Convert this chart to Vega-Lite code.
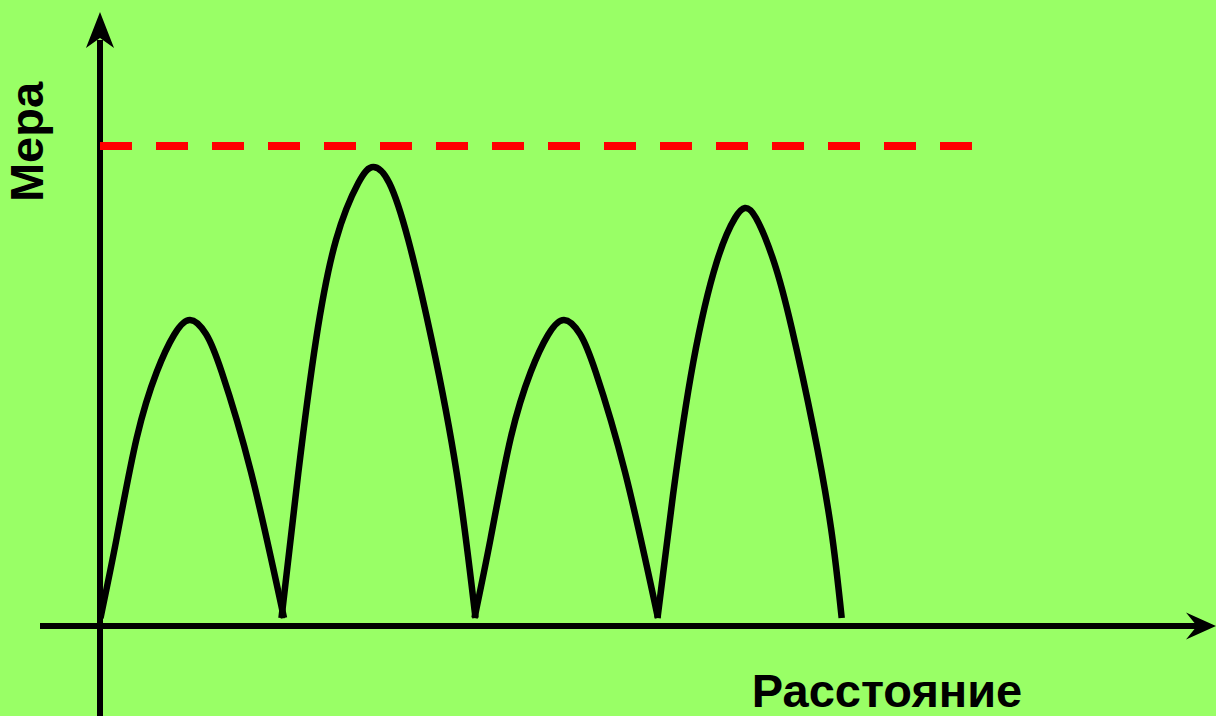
{
  "$schema": "https://vega.github.io/schema/vega-lite/v6.json",
  "width": 1216,
  "height": 716,
  "autosize": "none",
  "padding": 0,
  "background": "#99FF66",
  "config": {"view": {"stroke": null}},
  "datasets": {
    "curve": [
      {"arch": 1, "d": 0.5, "m": 8}, {"arch": 1, "d": 16.7, "m": 88}, {"arch": 1, "d": 36.7, "m": 188}, {"arch": 1, "d": 56.7, "m": 254}, {"arch": 1, "d": 74, "m": 291}, {"arch": 1, "d": 90, "m": 306}, {"arch": 1, "d": 106, "m": 292}, {"arch": 1, "d": 121.7, "m": 254}, {"arch": 1, "d": 151, "m": 154}, {"arch": 1, "d": 184, "m": 8},
      {"arch": 2, "d": 181.5, "m": 8}, {"arch": 2, "d": 198.3, "m": 153}, {"arch": 2, "d": 216, "m": 286}, {"arch": 2, "d": 236, "m": 386}, {"arch": 2, "d": 258.3, "m": 443}, {"arch": 2, "d": 273.3, "m": 459}, {"arch": 2, "d": 289.3, "m": 443}, {"arch": 2, "d": 308.3, "m": 386}, {"arch": 2, "d": 331.7, "m": 286}, {"arch": 2, "d": 356.7, "m": 153}, {"arch": 2, "d": 375.5, "m": 8},
      {"arch": 3, "d": 374.5, "m": 8}, {"arch": 3, "d": 390.7, "m": 88}, {"arch": 3, "d": 410.7, "m": 188}, {"arch": 3, "d": 430.7, "m": 254}, {"arch": 3, "d": 448, "m": 291}, {"arch": 3, "d": 464, "m": 306}, {"arch": 3, "d": 480, "m": 292}, {"arch": 3, "d": 495.7, "m": 254}, {"arch": 3, "d": 525, "m": 154}, {"arch": 3, "d": 558, "m": 8},
      {"arch": 4, "d": 557.5, "m": 8}, {"arch": 4, "d": 573, "m": 131}, {"arch": 4, "d": 593.3, "m": 264}, {"arch": 4, "d": 616.7, "m": 364}, {"arch": 4, "d": 635, "m": 408}, {"arch": 4, "d": 645, "m": 418}, {"arch": 4, "d": 656, "m": 408}, {"arch": 4, "d": 674, "m": 364}, {"arch": 4, "d": 691.7, "m": 298}, {"arch": 4, "d": 713.3, "m": 198}, {"arch": 4, "d": 731, "m": 98}, {"arch": 4, "d": 741.7, "m": 8}
    ]
  },
  "layer": [
    {
      "data": {"name": "curve"},
      "mark": {"type": "line", "color": "black", "strokeWidth": 6.5, "strokeCap": "butt", "strokeJoin": "round", "interpolate": "natural", "clip": false},
      "encoding": {
        "x": {"field": "d", "type": "quantitative", "scale": {"domain": [-100, 1116], "nice": false, "zero": false}, "axis": null},
        "y": {"field": "m", "type": "quantitative", "scale": {"domain": [-90, 626], "nice": false, "zero": false}, "axis": null},
        "detail": {"field": "arch", "type": "nominal"}
      }
    },
    {
      "data": {"values": [{}]},
      "mark": {"type": "rule", "color": "black", "strokeWidth": 6, "strokeCap": "butt"},
      "encoding": {
        "x": {"datum": 0, "type": "quantitative"},
        "y": {"datum": -90, "type": "quantitative"},
        "y2": {"datum": 586}
      }
    },
    {
      "data": {"values": [{}]},
      "mark": {"type": "rule", "color": "black", "strokeWidth": 6, "strokeCap": "butt"},
      "encoding": {
        "y": {"datum": 0, "type": "quantitative"},
        "x": {"datum": -60, "type": "quantitative"},
        "x2": {"datum": 1097}
      }
    },
    {
      "data": {"values": [{}]},
      "mark": {"type": "rule", "color": "#FF0000", "strokeWidth": 8, "strokeCap": "butt", "strokeDash": [32, 24]},
      "encoding": {
        "y": {"datum": 480, "type": "quantitative"},
        "x": {"datum": 0, "type": "quantitative"},
        "x2": {"datum": 872}
      }
    },
    {
      "data": {"values": [{}]},
      "mark": {"type": "point", "filled": true, "color": "black", "opacity": 1, "strokeWidth": 0, "size": 1296, "shape": "M0,-1L0.78,1L0,0.44L-0.78,1Z"},
      "encoding": {
        "x": {"datum": 0, "type": "quantitative"},
        "y": {"datum": 596, "type": "quantitative"}
      }
    },
    {
      "data": {"values": [{}]},
      "mark": {"type": "point", "filled": true, "color": "black", "opacity": 1, "strokeWidth": 0, "size": 900, "shape": "M1,0L-1,-0.9L-0.27,0L-1,0.9Z"},
      "encoding": {
        "x": {"datum": 1101, "type": "quantitative"},
        "y": {"datum": 0, "type": "quantitative"}
      }
    },
    {
      "data": {"values": [{}]},
      "mark": {"type": "text", "text": "Мера", "font": "Liberation Sans", "fontWeight": "bold", "fontSize": 47, "angle": 270, "align": "center", "baseline": "alphabetic", "color": "black"},
      "encoding": {
        "x": {"datum": -57, "type": "quantitative"},
        "y": {"datum": 484, "type": "quantitative"}
      }
    },
    {
      "data": {"values": [{}]},
      "mark": {"type": "text", "text": "Расстояние", "font": "Liberation Sans", "fontWeight": "bold", "fontSize": 47, "align": "center", "baseline": "alphabetic", "color": "black"},
      "encoding": {
        "x": {"datum": 787, "type": "quantitative"},
        "y": {"datum": -81, "type": "quantitative"}
      }
    }
  ]
}
